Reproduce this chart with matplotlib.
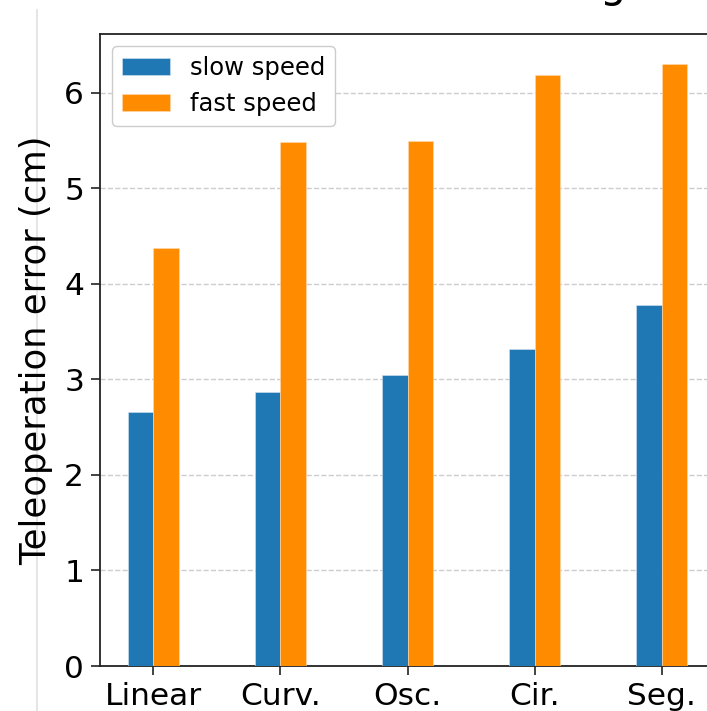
import matplotlib
matplotlib.use("Agg")
import matplotlib.pyplot as plt
import numpy as np
from matplotlib.lines import Line2D

categories = ["Linear", "Curv.", "Osc.", "Cir.", "Seg."]
slow_speed = [2.66, 2.87, 3.05, 3.32, 3.78]
fast_speed = [4.38, 5.48, 5.49, 6.19, 6.30]
series_labels = ["slow speed", "fast speed"]
y_ticks = [0, 1, 2, 3, 4, 5, 6]

plt.rcParams['font.family'] = ['DejaVu Sans']

fig = plt.figure(figsize=(7.07, 7.11), dpi=100)
W, H = 707, 711
ax = fig.add_axes([100 / W, 45 / H, 615 / W, 632 / H])

x = np.arange(len(categories))
width = 0.2
ax.bar(x - width / 2, slow_speed, width, color="#1f77b4", label=series_labels[0],
       edgecolor="#d6e4f0", linewidth=0.4, zorder=3)
ax.bar(x + width / 2, fast_speed, width, color="#ff8c00", label=series_labels[1],
       edgecolor="#ffd9b0", linewidth=0.4, zorder=3)

ax.set_xticks(x)
ax.set_xticklabels(categories, fontsize=22.5)
ax.set_yticks(y_ticks)
ax.set_yticklabels([str(t) for t in y_ticks], fontsize=22.5)
ax.set_ylabel("Teleoperation error (cm)", fontsize=25.5, labelpad=8)

ax.yaxis.grid(True, linestyle="--", color="#cccccc", linewidth=1.0, zorder=0)
ax.set_axisbelow(True)

for s in ax.spines.values():
    s.set_linewidth(1.3)
    s.set_color("#222222")
ax.tick_params(axis="both", length=6.5, width=1.2, color="#222222", pad=5)

leg = ax.legend(loc="upper left", fontsize=17.5, frameon=True, fancybox=True,
                edgecolor="#cccccc", framealpha=1.0)

# divider line from the source page
fig.add_artist(Line2D([37 / W, 37 / W], [0, 1 - 10 / H], transform=fig.transFigure,
                      color="#e0e0e0", linewidth=1.2, zorder=0))
# fragment of a heading cut off above
fig.text(613 / W, 1 - 6 / H, "g", fontsize=30, ha="center", va="bottom", color="black")

fig.savefig("out.png", dpi=100)
